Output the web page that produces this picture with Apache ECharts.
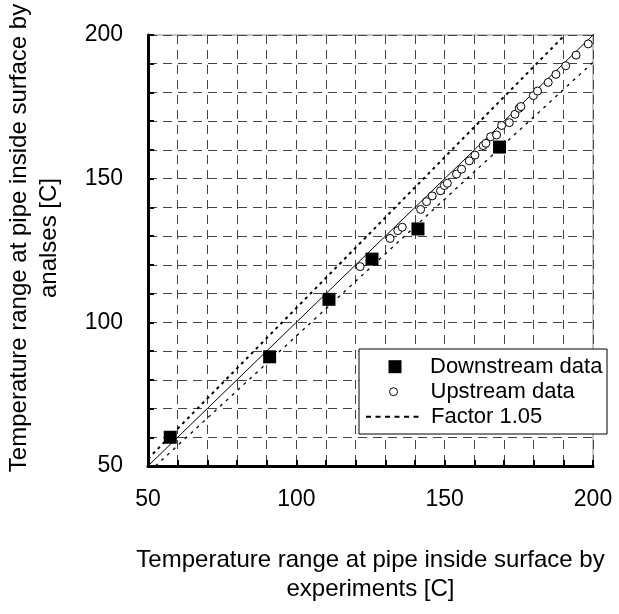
<!DOCTYPE html>
<html>
<head>
<meta charset="utf-8">
<script src="https://cdn.jsdelivr.net/npm/echarts@6/dist/echarts.min.js"></script>
<style>html,body{margin:0;padding:0;background:#fff;}#c{width:619px;height:614px;}</style>
</head>
<body>
<div id="c"></div>
<script>
// ---- data ----
const downstream = [[57.5,60],[91,88],[111,108],[125.5,122],[141,132.5],[168.5,161]];
const upstream = [[121.5,119.4],[131.6,129.2],[134.2,131.9],[135.7,133.1],[141.9,139.3],[143.9,142],[145.8,144],[148.6,145.8],[149.9,147.6],[150.9,148.4],[154,151.6],[155.7,153.3],[158.3,156.2],[160.2,158.2],[163,161.5],[163.9,162.3],[165.5,164.6],[167.5,165.2],[169.2,168.5],[171.8,169.5],[173.7,172.4],[175.1,174.5],[175.7,175.1],[179.9,178.9],[181.3,180.5],[184.9,183.5],[187.5,186.3],[190.8,189.3],[194.3,193],[198.4,196.9]];
const equalLine = [[48,48],[201.7,201.7]];
const upperFactor = [[50,52.5],[190.5,200]];
const lowerFactor = [[52.5,50],[200,190.5]];
const tickLabels = [50,100,150,200];
const xName = 'Temperature range at pipe inside surface by\nexperiments [C]';
const yName = 'Temperature range at pipe inside surface by\nanalses [C]';

const FONT = 'Liberation Sans, Arial, sans-serif';
const chart = echarts.init(document.getElementById('c'), null, {renderer:'canvas'});
const labelFmt = v => tickLabels.indexOf(v) >= 0 ? String(v) : '';
const axisCommon = {
  type:'value', min:50, max:200, interval:10,
  axisLine:{show:true, onZero:false, lineStyle:{color:'#000', width:3}},
  axisTick:{show:true, inside:true, length:6, lineStyle:{color:'#000', width:2}},
  splitLine:{show:true, lineStyle:{color:'#444', width:1, type:[9,6]}},
  axisLabel:{formatter:labelFmt, color:'#000', fontSize:23, fontFamily:FONT, showMinLabel:true, showMaxLabel:true}
};
chart.setOption({
  animation:false,
  backgroundColor:'#fff',
  grid:{left:148, right:26, top:35, bottom:148, show:true, borderColor:'#888', borderWidth:1, backgroundColor:'transparent'},
  xAxis:Object.assign({}, axisCommon, {
    axisLabel:Object.assign({}, axisCommon.axisLabel, {margin:22}),
    name:xName, nameLocation:'middle', nameGap:80,
    nameTextStyle:{color:'#000', fontSize:24, fontFamily:FONT, lineHeight:29}
  }),
  yAxis:Object.assign({}, axisCommon, {
    axisLabel:Object.assign({}, axisCommon.axisLabel, {margin:25})
  }),
  graphic:[
    {type:'rect', z:3, shape:{x:359, y:349, width:248, height:85}, style:{fill:'#fff', stroke:'#000', lineWidth:1}},
    {type:'text', z:3, x:34, y:238, rotation:Math.PI/2,
     style:{text:yName, font:'24px ' + FONT, fill:'#000', align:'center', verticalAlign:'middle', lineHeight:30}}
  ],
  legend:[
    {data:[{name:'Downstream data', icon:'rect', itemStyle:{color:'#000', opacity:1}}], left:388.5, top:355.7, padding:0, itemWidth:13, itemHeight:13,
     textStyle:{fontSize:22, fontFamily:FONT, color:'#000', lineHeight:22, padding:[0,0,0,23.5]}, selectedMode:false},
    {data:[{name:'Upstream data', icon:'circle', itemStyle:{color:'#fff', borderColor:'#000', borderWidth:1, opacity:1}}], left:389, top:380.7, padding:0, itemWidth:8, itemHeight:8,
     textStyle:{fontSize:22, fontFamily:FONT, color:'#000', lineHeight:22, padding:[0,0,0,28]}, selectedMode:false},
    {data:[{name:'Factor 1.05', itemStyle:{color:'#000', opacity:0, borderWidth:0}, lineStyle:{color:'#000', width:2, type:[5,4.5], opacity:1}}], left:365, top:405.7, padding:0, itemWidth:57, itemHeight:2,
     textStyle:{fontSize:22, fontFamily:FONT, color:'#000', lineHeight:22, padding:[0,0,0,3]}, selectedMode:false}
  ],
  series:[
    {name:'equal', type:'line', data:equalLine, symbol:'none', clip:false, lineStyle:{color:'#000', width:1}, z:3},
    {name:'Factor 1.05', type:'line', data:upperFactor, symbol:'none', itemStyle:{color:'#000'}, lineStyle:{color:'#000', width:2, type:[3,4]}, z:3},
    {name:'Factor lower', type:'line', data:lowerFactor, symbol:'none', itemStyle:{color:'#000'}, lineStyle:{color:'#000', width:1.3, type:[3,5]}, z:3},
    {name:'Upstream data', type:'scatter', data:upstream, symbol:'circle', symbolSize:8,
     itemStyle:{color:'#fff', borderColor:'#000', borderWidth:1, opacity:1}, z:4},
    {name:'Downstream data', type:'scatter', data:downstream, symbol:'rect', symbolSize:13,
     itemStyle:{color:'#000', opacity:1}, z:5}
  ]
});
</script>
</body>
</html>
